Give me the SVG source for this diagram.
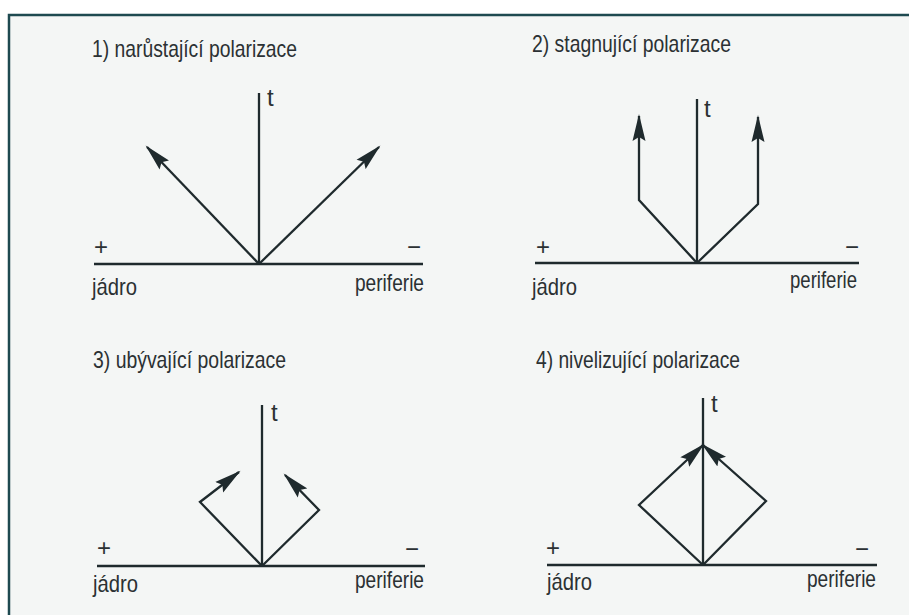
<svg xmlns="http://www.w3.org/2000/svg" width="909" height="615" viewBox="0 0 909 615">
  <style>
    .ax { stroke: #1f2a2d; stroke-width: 2.3; fill: none; }
    .ar { stroke: #1f2a2d; stroke-width: 2.3; fill: none; marker-end: url(#ah); stroke-linejoin: miter; }
    .t { font-family: "Liberation Sans Narrow", "Liberation Sans", Arial, sans-serif; fill: #2b3133; }
    .ti { font-size: 24px; }
    .lb { font-size: 24px; }
    .sg { font-size: 24px; }
  </style>
  <defs>
    <marker id="ah" markerUnits="userSpaceOnUse" markerWidth="28" markerHeight="14" viewBox="0 0 28 14" refX="25" refY="7" orient="auto">
      <path d="M0,0.5 L27,7 L0,13.5 L4,7 Z" fill="#1f2a2d"/>
    </marker>
  </defs>
  <rect x="0" y="0" width="909" height="615" fill="#ffffff"/>
  <rect x="9" y="15" width="900" height="600" fill="#f4f6f5"/>
  <g id="frame">
    <path d="M9,615 L9,15 L909,15" stroke="#1e4a50" stroke-width="2.5" fill="none"/>
  </g>

  <g id="panel1">
    <text class="t ti" x="92" y="57" textLength="205" lengthAdjust="spacingAndGlyphs">1) narůstající polarizace</text>
    <line class="ax" x1="259" y1="93" x2="259" y2="264"/>
    <line class="ax" x1="94" y1="264" x2="423" y2="264"/>
    <text class="t lb" x="267" y="106">t</text>
    <text class="t sg" x="94" y="255">+</text>
    <text class="t sg" x="407" y="255">−</text>
    <text class="t lb" x="92" y="295" textLength="45" lengthAdjust="spacingAndGlyphs">jádro</text>
    <text class="t lb" x="355" y="291" textLength="69" lengthAdjust="spacingAndGlyphs">periferie</text>
    <g id="connectors1">
      <path class="ar" d="M259,264 L147,147"/>
      <path class="ar" d="M259,264 L379,147"/>
    </g>
  </g>

  <g id="panel2">
    <text class="t ti" x="532" y="52" textLength="199" lengthAdjust="spacingAndGlyphs">2) stagnující polarizace</text>
    <line class="ax" x1="697" y1="99" x2="697" y2="263"/>
    <line class="ax" x1="535" y1="263" x2="859" y2="263"/>
    <text class="t lb" x="704" y="117">t</text>
    <text class="t sg" x="536" y="255">+</text>
    <text class="t sg" x="845" y="255">−</text>
    <text class="t lb" x="532" y="295" textLength="45" lengthAdjust="spacingAndGlyphs">jádro</text>
    <text class="t lb" x="790" y="288" textLength="67" lengthAdjust="spacingAndGlyphs">periferie</text>
    <g id="connectors2">
      <path class="ar" d="M697,263 L639,200 L639,116"/>
      <path class="ar" d="M697,263 L758,204 L758,117"/>
    </g>
  </g>

  <g id="panel3">
    <text class="t ti" x="93" y="368" textLength="193" lengthAdjust="spacingAndGlyphs">3) ubývající polarizace</text>
    <line class="ax" x1="262" y1="405" x2="262" y2="566"/>
    <line class="ax" x1="97" y1="566" x2="425" y2="566"/>
    <text class="t lb" x="271" y="421">t</text>
    <text class="t sg" x="97" y="556">+</text>
    <text class="t sg" x="405" y="557">−</text>
    <text class="t lb" x="93" y="592" textLength="45" lengthAdjust="spacingAndGlyphs">jádro</text>
    <text class="t lb" x="355" y="588" textLength="69" lengthAdjust="spacingAndGlyphs">periferie</text>
    <g id="connectors3">
      <path class="ar" d="M262,566 L200,502 L239,472"/>
      <path class="ar" d="M262,566 L319,510 L285,475"/>
    </g>
  </g>

  <g id="panel4">
    <text class="t ti" x="536" y="368" textLength="204" lengthAdjust="spacingAndGlyphs">4) nivelizující polarizace</text>
    <line class="ax" x1="703" y1="398" x2="703" y2="565"/>
    <line class="ax" x1="547" y1="565" x2="877" y2="565"/>
    <text class="t lb" x="711" y="412">t</text>
    <text class="t sg" x="546" y="556">+</text>
    <text class="t sg" x="855" y="557">−</text>
    <text class="t lb" x="547" y="590" textLength="45" lengthAdjust="spacingAndGlyphs">jádro</text>
    <text class="t lb" x="807" y="587" textLength="69" lengthAdjust="spacingAndGlyphs">periferie</text>
    <g id="connectors4">
      <path class="ar" d="M703,565 L639,505 L703,445"/>
      <path class="ar" d="M703,565 L766,501 L703,445"/>
    </g>
  </g>
</svg>
